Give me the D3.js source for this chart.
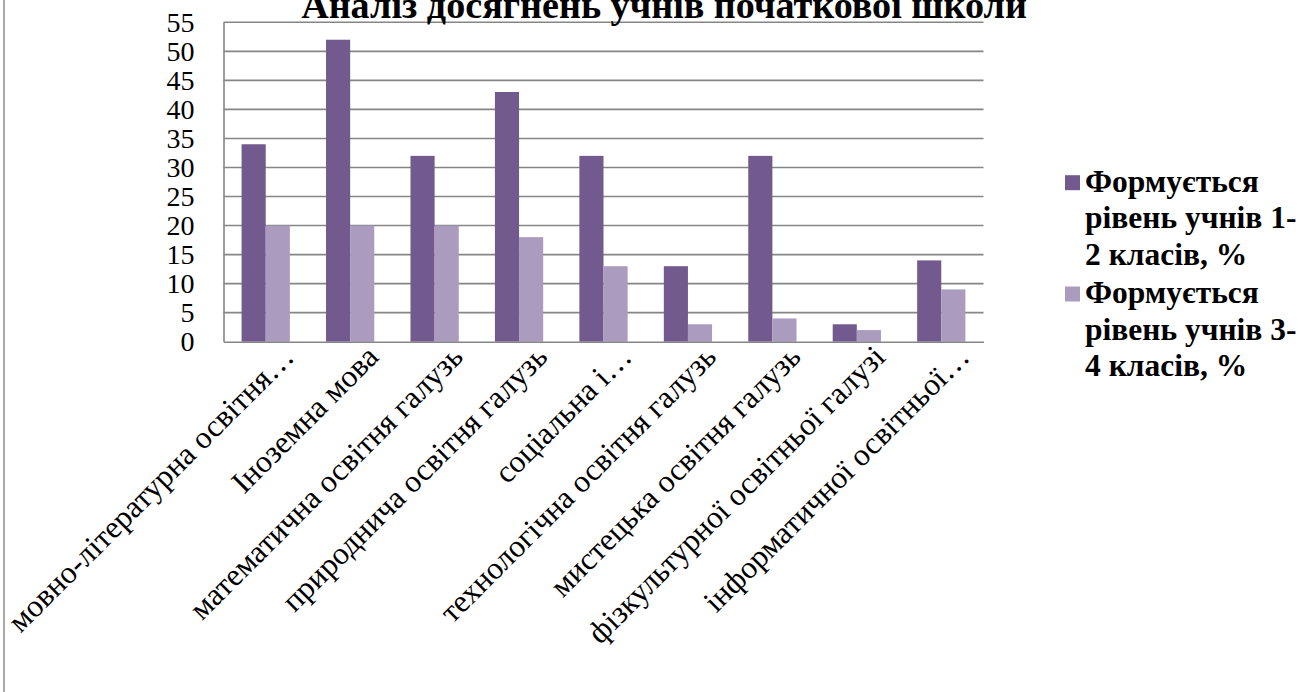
<!DOCTYPE html>
<html>
<head>
<meta charset="utf-8">
<script src="https://cdn.jsdelivr.net/npm/d3@7"></script>
<style>
html,body{margin:0;padding:0;background:#fff;}
svg{display:block;}
</style>
</head>
<body>
<svg id="chart" width="1312" height="692"></svg>
<script>
const title = "Аналіз досягнень учнів початкової школи";
const categories = [
  "мовно-літературна освітня…",
  "Іноземна мова",
  "математична освітня галузь",
  "природнича освітня галузь",
  "соціальна і…",
  "технологічна освітня галузь",
  "мистецька освітня галузь",
  "фізкультурної освітньої галузі",
  "інформатичної освітньої…"
];
const seriesNames = [
  ["Формується", "рівень учнів 1-", "2 класів, %"],
  ["Формується", "рівень учнів 3-", "4 класів, %"]
];
const grades12 = [34, 52, 32, 43, 32, 13, 32, 3, 14];
const grades34 = [20, 20, 20, 18, 13, 3, 4, 2, 9];
const yTicks = [0, 5, 10, 15, 20, 25, 30, 35, 40, 45, 50, 55];
const colors = ["#725a8f", "#aa9bbf"];

const svg = d3.select("#chart");
const plot = {left: 223.5, right: 983.5, top: 22.3, bottom: 341.7};

function serif(sel, size, bold) {
  sel.style("font-family", `"Liberation Serif"`).attr("font-size", size).attr("fill", "#000");
  if (bold) sel.attr("font-weight", "bold");
  return sel;
}

const x0 = d3.scaleBand().domain(categories).range([plot.left, plot.right]).paddingInner(0).paddingOuter(0);
const gapFrac = 1.5 / 3.5;
const x1 = d3.scaleBand().domain([0, 1])
  .range([x0.bandwidth() * gapFrac / 2, x0.bandwidth() * (1 - gapFrac / 2)]).padding(0);
const y = d3.scaleLinear().domain([0, 55]).range([plot.bottom, plot.top]);

// left frame line
svg.append("line").attr("x1", 4).attr("x2", 4).attr("y1", 0).attr("y2", 692)
  .attr("stroke", "#8c8c8c").attr("stroke-width", 1.5);

// gridlines
svg.append("g").selectAll("line").data(yTicks.filter(d => d > 0)).join("line")
  .attr("x1", plot.left).attr("x2", plot.right)
  .attr("y1", d => y(d)).attr("y2", d => y(d))
  .attr("stroke", "#868686").attr("stroke-width", 1.6);

// bars
const data = categories.map((c, i) => ({c, v: [grades12[i], grades34[i]]}));
svg.append("g").selectAll("g").data(data).join("g")
  .attr("transform", d => `translate(${x0(d.c)},0)`)
  .selectAll("rect").data(d => d.v.map((v, k) => ({v, k}))).join("rect")
  .attr("x", d => x1(d.k)).attr("width", x1.bandwidth())
  .attr("y", d => y(d.v)).attr("height", d => y(0) - y(d.v))
  .attr("fill", d => colors[d.k]);

// y axis
const yAxis = d3.axisLeft(y).tickValues(yTicks).tickSize(0).tickPadding(29);
const ya = svg.append("g").attr("transform", `translate(${plot.left},0)`).call(yAxis);
ya.attr("font-family", null).attr("font-size", null);
ya.select(".domain").attr("stroke", "#868686").attr("stroke-width", 1.6);
serif(ya.selectAll("text"), 28).attr("dy", "0.33em");

// x axis
const xAxis = d3.axisBottom(x0).tickSize(0).tickFormat(d => d);
const xa = svg.append("g").attr("transform", `translate(0,${plot.bottom})`).call(xAxis);
xa.attr("font-family", null).attr("font-size", null);
xa.select(".domain").attr("stroke", "#868686").attr("stroke-width", 1.6);
serif(xa.selectAll(".tick text"), 31.5)
  .attr("text-anchor", "end").attr("y", 0).attr("dy", 0)
  .attr("transform", "translate(30,17) rotate(-45)");

// title (fit to reference width)
const tt = serif(svg.append("text"), 30, true).attr("x", 664).attr("y", 18).attr("text-anchor", "middle").text(title);
const tw = tt.node().getComputedTextLength();
tt.attr("font-size", +(30 * 726 / tw).toFixed(2));

// legend
const leg = svg.append("g");
seriesNames.forEach((lines, k) => {
  const base = 191.7 + k * 111.3;
  leg.append("rect").attr("x", 1065).attr("y", base - 16.5).attr("width", 15).attr("height", 15).attr("fill", colors[k]);
  lines.forEach((t, j) => {
    serif(leg.append("text"), 31.5, true).attr("x", 1085).attr("y", base + j * 36.5).text(t);
  });
});
</script>
</body>
</html>
